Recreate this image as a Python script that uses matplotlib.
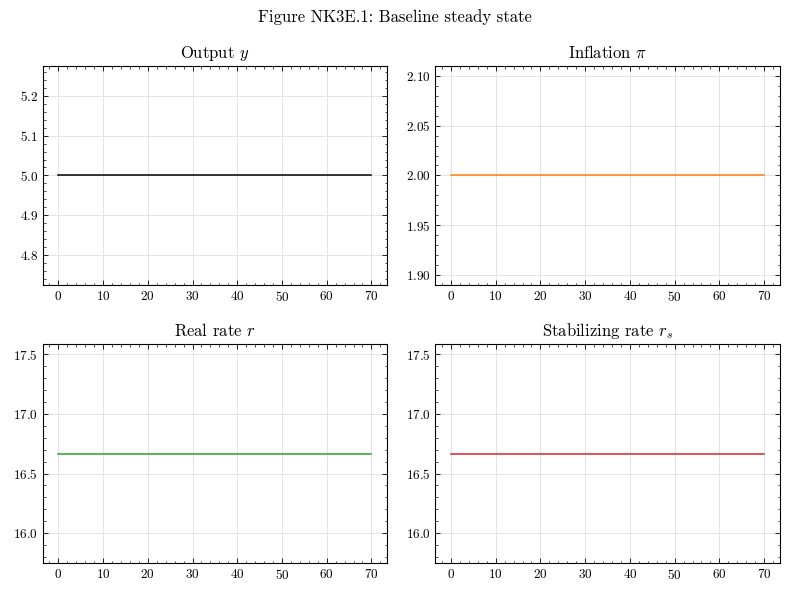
import numpy as np
import matplotlib
matplotlib.use("Agg")
import matplotlib.pyplot as plt
from matplotlib.ticker import AutoMinorLocator, MultipleLocator

plt.rcParams.update({
    "font.family": "serif",
    "font.serif": ["cmr10", "DejaVu Serif"],
    "mathtext.fontset": "cm",
    "axes.formatter.use_mathtext": True,
    "xtick.direction": "in",
    "ytick.direction": "in",
    "xtick.top": True,
    "ytick.right": True,
    "xtick.minor.visible": True,
    "ytick.minor.visible": True,
    "xtick.major.size": 3.5,
    "ytick.major.size": 3.5,
    "xtick.minor.size": 1.8,
    "ytick.minor.size": 1.8,
    "xtick.major.width": 0.6,
    "ytick.major.width": 0.6,
    "xtick.minor.width": 0.5,
    "ytick.minor.width": 0.5,
    "axes.linewidth": 0.8,
    "axes.unicode_minus": False,
})

periods = np.arange(0, 71)
output_ss = 5.0
inflation_ss = 2.0
real_rate_ss = 16.6667
stab_rate_ss = 16.6667

titles = ["Output $y$", r"Inflation $\pi$", "Real rate $r$", "Stabilizing rate $r_s$"]
levels = [output_ss, inflation_ss, real_rate_ss, stab_rate_ss]
colors = ["black", "#ff7f0e", "#2ca02c", "#d62728"]

fig, axes = plt.subplots(2, 2, figsize=(7.9, 5.94), dpi=100)
fig.subplots_adjust(left=0.054, right=0.987, top=0.889, bottom=0.052, wspace=0.14, hspace=0.27)
fig.suptitle("Figure NK3E.1: Baseline steady state", fontsize=12, y=0.985)

for i, (ax, title, lvl, c) in enumerate(zip(axes.flat, titles, levels, colors)):
    ax.plot(periods, np.full(periods.shape, lvl), color=c, lw=1.1)
    ax.set_title(title, fontsize=12)
    ax.grid(True, color="#e3e3e3", lw=0.7)
    ax.tick_params(labelsize=9.5)
    ax.xaxis.set_minor_locator(AutoMinorLocator(5))
    if i >= 2:
        ax.yaxis.set_major_locator(MultipleLocator(0.5))
    ax.yaxis.set_minor_locator(AutoMinorLocator(5))

fig.savefig("out.png", dpi=100)
